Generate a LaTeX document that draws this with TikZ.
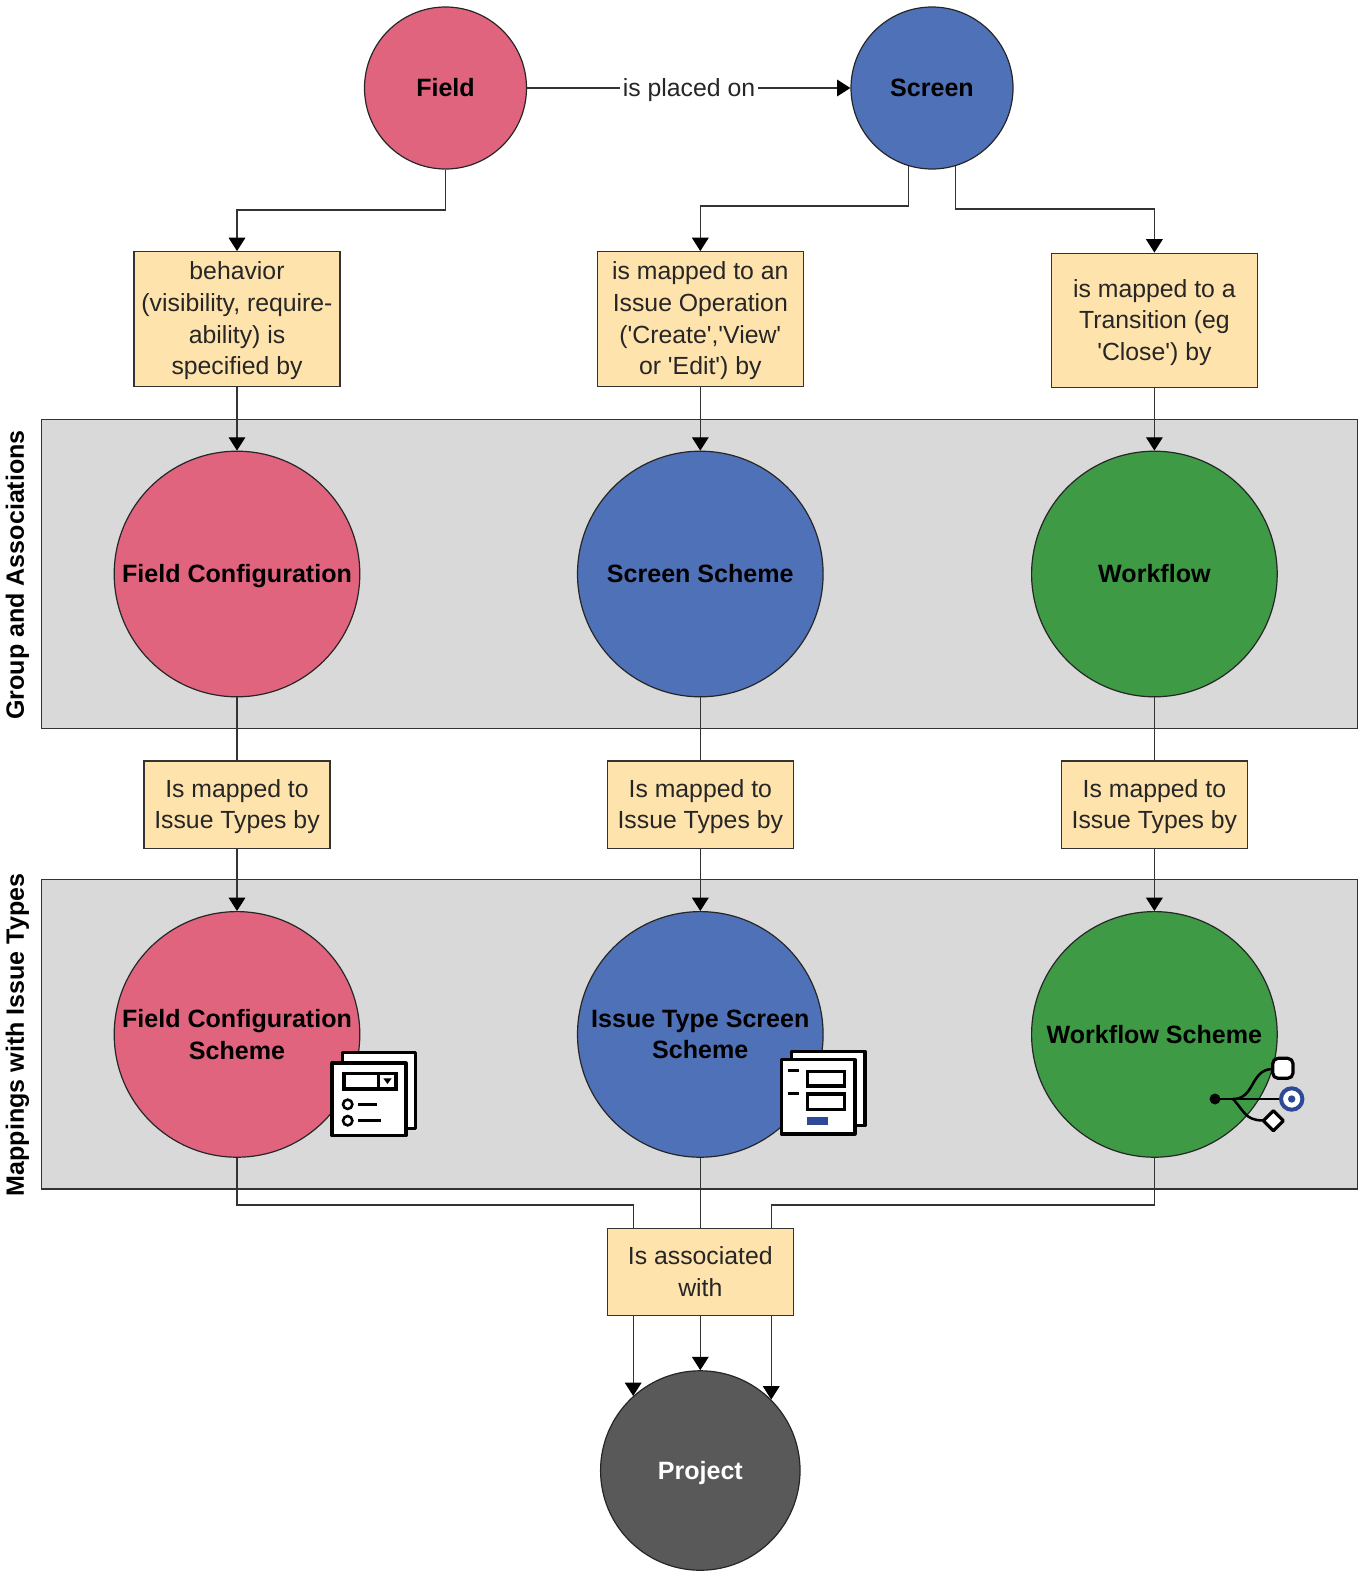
\documentclass[tikz,border=0pt]{standalone}
\usepackage{fontspec}
\setmainfont{Liberation Sans}
\usetikzlibrary{arrows.meta}
\definecolor{pinkc}{HTML}{E1647F}
\definecolor{bluec}{HTML}{4F71B8}
\definecolor{greenc}{HTML}{3E9A45}
\definecolor{panelc}{HTML}{D9D9D9}
\definecolor{boxc}{HTML}{FFE3AC}
\definecolor{projc}{HTML}{595959}
\definecolor{linec}{HTML}{333333}
\definecolor{navyc}{HTML}{2E4A96}
\tikzset{
  txt/.style={font=\fontsize{18.6}{23.8}\selectfont,align=center,text=black!85},
  circ/.style={circle,draw=black!85,line width=.9pt,inner sep=0pt,align=center,
    font=\fontsize{18.8}{23.8}\selectfont\bfseries,text=black},
  small/.style={circ,minimum size=121.5pt},
  big/.style={circ,minimum size=184.2pt},
  note/.style={txt,rectangle,draw=linec,line width=.9pt,fill=boxc,inner sep=0pt},
  tall/.style={note,text depth=1pt,minimum width=154.5pt,minimum height=101pt},
  wide/.style={note,minimum width=139.5pt,minimum height=65.5pt},
  panel/.style={rectangle,draw=linec,line width=.9pt,fill=panelc,inner sep=0pt,
    minimum width=986.8pt},
  side/.style={rotate=90,font=\fontsize{18.8}{23.8}\selectfont\bfseries,text=black},
  conn/.style={draw=linec,line width=.9pt},
  arr/.style={conn,-{Triangle[length=10pt,width=12.5pt,color=black]}},
  sheet/.style={draw=black,line width=2.4pt,fill=white,line join=round},
  stroke/.style={draw=black,line width=2.4pt},
  thin/.style={draw=black,line width=1.9pt}
}
\begin{document}
\begin{tikzpicture}[x=.75pt,y=-.75pt]
\useasboundingbox (0,0) rectangle (1365,1578);
\node[panel,minimum height=231.9pt] (groups) at (699.6,574) {};
\node[panel,minimum height=232.2pt] (maps) at (699.6,1034.2) {};
\node[side] (grouplabel) at (17.5,575) {Group and Associations};
\node[side] (maplabel) at (17.5,1035) {Mappings with Issue Types};

\node[small,fill=pinkc] (field) at (445.5,88) {Field};
\node[small,fill=bluec] (screen) at (932,88) {Screen};
\node[tall] (behavior) at (237,319) {behavior\\(visibility, require-\\ability) is\\specified by};
\node[tall] (operation) at (700.3,319) {is mapped to an\\Issue Operation\\(\textquotesingle Create\textquotesingle,\textquotesingle View\textquotesingle\\or \textquotesingle Edit\textquotesingle) by};
\node[tall] (transition) at (1154.4,320.5) {is mapped to a\\Transition (eg\\\textquotesingle Close\textquotesingle) by};

\node[big,fill=pinkc,text depth=1pt] (fconf) at (237,574) {Field Configuration};
\node[big,fill=bluec] (sscheme) at (700.3,574) {Screen Scheme};
\node[big,fill=greenc] (wflow) at (1154.4,574) {Workflow};
\node[wide,text depth=1pt] (mapf) at (237,804.7) {Is mapped to\\Issue Types by};
\node[wide,text depth=1pt] (maps2) at (700.3,804.7) {Is mapped to\\Issue Types by};
\node[wide,text depth=1pt] (mapw) at (1154.4,804.7) {Is mapped to\\Issue Types by};
\node[big,fill=pinkc] (fcs) at (237,1034.4) {Field Configuration\\Scheme};
\node[big,fill=bluec] (its) at (700.3,1034.4) {Issue Type Screen\\Scheme};
\node[big,fill=greenc] (wfs) at (1154.4,1034.4) {Workflow Scheme};
\node[wide] (assoc) at (700.3,1271.8) {Is associated\\with};
\node[circ,minimum size=149.6pt,fill=projc,text=white,text depth=0pt] (project) at (700.3,1470.5) {Project};

\node[txt,fill=white,inner xsep=2pt,inner ysep=1pt,text depth=0pt] (placed) at (689,88) {is placed on};
\draw[conn] (field) -- (placed);
\draw[arr] (placed) -- (screen);

\coordinate (fieldbend) at (237,210);
\coordinate (leftbend) at (700.3,206);
\coordinate (rightbend) at (1154.4,209);
\draw[arr] (field.south) |- (fieldbend) -- (behavior.north);
\draw[arr] (screen.253.5) |- (leftbend) -- (operation.north);
\draw[arr] (screen.287.2) |- (rightbend) -- (transition.north);

\draw[arr] (behavior) -- (fconf);
\draw[arr] (operation) -- (sscheme);
\draw[arr] (transition) -- (wflow);
\draw[conn] (fconf) -- (mapf);
\draw[conn] (sscheme) -- (maps2);
\draw[conn] (wflow) -- (mapw);
\draw[arr] (mapf) -- (fcs);
\draw[arr] (maps2) -- (its);
\draw[arr] (mapw) -- (wfs);

\coordinate (busl) at (project.132.2 |- 0,1205);
\coordinate (busr) at (project.45.3 |- 0,1205);
\draw[conn] (fcs.south) |- (busl) -- (busl |- assoc.north);
\draw[conn] (its) -- (assoc);
\draw[conn] (wfs.south) |- (busr) -- (busr |- assoc.north);
\draw[arr] (project.132.2 |- assoc.south) -- (project.132.2);
\draw[arr] (assoc) -- (project);
\draw[arr] (project.45.3 |- assoc.south) -- (project.45.3);

\draw[sheet] (342.5,1052.7) rectangle (415.5,1128.5);
\draw[sheet] (332,1063) rectangle (406,1135.5);
\draw[stroke] (344,1073.5) rectangle (396,1089);
\draw[stroke] (378.3,1073.5) -- (378.3,1089);
\fill (383.3,1078.3) -- (391.7,1078.3) -- (387.5,1084) -- cycle;
\draw[thin] (347.7,1104.3) circle (4.7);
\draw[thin] (347.7,1120.7) circle (4.7);
\draw[thin] (358.3,1104.3) -- (377.3,1104.3);
\draw[thin] (358.3,1120.7) -- (381,1120.7);

\draw[sheet] (791.5,1051.5) rectangle (865,1125.5);
\draw[sheet] (781.5,1059.8) rectangle (855,1134);
\draw[thin] (787.7,1070.7) -- (799.3,1070.7);
\draw[thin] (787.7,1093.3) -- (799.3,1093.3);
\draw[stroke] (807.5,1071.5) rectangle (844.5,1086);
\draw[stroke] (807.5,1094) rectangle (844.5,1109.5);
\fill[navyc] (806.7,1116.7) rectangle (828.3,1125.3);

\draw[thin] (1215,1099) -- (1282,1099);
\draw[thin] (1233,1099) .. controls (1255,1099) and (1250,1070) .. (1272,1069);
\draw[thin] (1233,1099) .. controls (1245,1112) and (1245,1120) .. (1263,1120.5);
\fill (1215,1099) circle (5.5);
\draw[sheet,rounded corners=4pt] (1272.7,1058.3) rectangle (1293,1078.3);
\draw[sheet] (1273.3,1110.7) -- (1283.3,1120.7) -- (1273.3,1130.7) -- (1263.3,1120.7) -- cycle;
\draw[draw=navyc,line width=3pt,fill=white] (1291.7,1099) circle (10.7);
\fill[navyc] (1291.7,1099) circle (3.7);
\end{tikzpicture}
\end{document}
